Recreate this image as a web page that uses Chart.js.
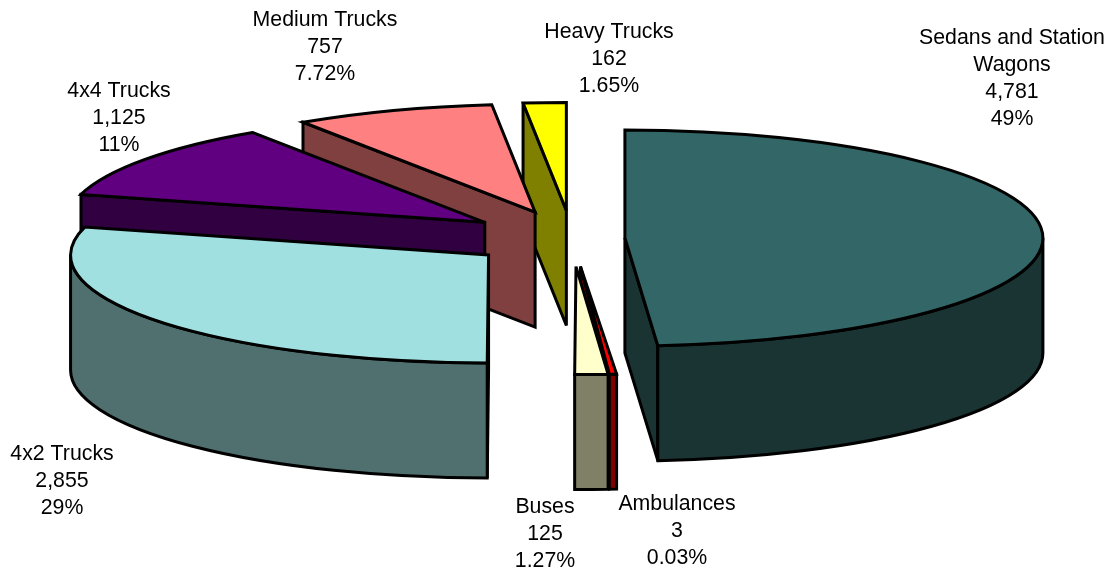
<!DOCTYPE html>
<html>
<head>
<meta charset="utf-8">
<title>Vehicles by type</title>
<script src="https://cdn.jsdelivr.net/npm/chart.js@4"></script>
<style>
    html, body { margin: 0; padding: 0; background: #fff; }
    canvas { display: block; }
</style>
</head>
<body>
<canvas id="grafico" width="1108" height="571"></canvas>
<script>
/* data */
const categories = ['Sedans and Station Wagons', 'Ambulances', 'Buses', '4x2 Trucks', '4x4 Trucks', 'Medium Trucks', 'Heavy Trucks'];
const values = [4781, 3, 125, 2855, 1125, 757, 162];
const percents = ['49%', '0.03%', '1.27%', '29%', '11%', '7.72%', '1.65%'];

/* styles */
const topColors = ['#336666', '#FF0000', '#FFFFCC', '#A0E0E0', '#600080', '#FF8080', '#FFFF00'];
const wallColors = ['#1A3333', '#800000', '#808066', '#507070', '#300040', '#804040', '#808000'];
const explode = [19, 39, 39, 37.7, 38.5, 39, 39];

/* label blocks: centre x, first line y */
const labelSpots = [[1012, 38], [677, 504], [545, 507], [62, 454], [119, 91], [325, 20], [609, 32]];
const labelLines = [['Sedans and Station', 'Wagons'], ['Ambulances'], ['Buses'], ['4x2 Trucks'], ['4x4 Trucks'], ['Medium Trucks'], ['Heavy Trucks']];

/* the tilted view */
const pieRadius = 150;
const viewRx = 418;
const viewRy = 108;
const depth = 115;
const minSweep = Math.PI / 180;

function drawSlice(ctx, arc, i) {
    const p = arc.getProps(['x', 'y', 'startAngle', 'endAngle', 'outerRadius'], true);
    const sx = viewRx / p.outerRadius;
    const sy = viewRy / p.outerRadius;
    const mid = (p.startAngle + p.endAngle) / 2;
    const off = arc.options.offset;
    const sweep = Math.max(p.endAngle - p.startAngle, minSweep);
    const a0 = mid - sweep / 2;
    const a1 = mid + sweep / 2;
    const cx = p.x + Math.cos(mid) * off * sx;
    const cy = p.y + Math.sin(mid) * off * sy;

    const fillStroke = (color) => {
        ctx.fillStyle = color;
        ctx.fill();
        ctx.stroke();
    };
    const cutFace = (a) => {
        const ex = cx + Math.cos(a) * viewRx;
        const ey = cy + Math.sin(a) * viewRy;
        ctx.beginPath();
        ctx.moveTo(cx, cy);
        ctx.lineTo(ex, ey);
        ctx.lineTo(ex, ey + depth);
        ctx.lineTo(cx, cy + depth);
        ctx.closePath();
        fillStroke(wallColors[i]);
    };

    // only the cut faces turned to the viewer
    if (Math.cos(a0) < 0) cutFace(a0);
    if (Math.cos(a1) > 0) cutFace(a1);

    // outer wall, front half of the ellipse
    const w0 = Math.max(a0, 0);
    const w1 = Math.min(a1, Math.PI);
    if (w1 > w0) {
        ctx.beginPath();
        ctx.ellipse(cx, cy, viewRx, viewRy, 0, w0, w1);
        ctx.ellipse(cx, cy + depth, viewRx, viewRy, 0, w1, w0, true);
        ctx.closePath();
        fillStroke(wallColors[i]);
    }

    // top face
    ctx.beginPath();
    ctx.moveTo(cx, cy);
    ctx.ellipse(cx, cy, viewRx, viewRy, 0, a0, a1);
    ctx.closePath();
    fillStroke(topColors[i]);
}

const tiltedPie = {
    id: 'tiltedPie',
    beforeDatasetDraw(chart, args) {
        const ctx = chart.ctx;
        const arcs = args.meta.data.map((arc, i) => ({ arc, i }));
        // back slices first
        arcs.sort((a, b) => {
            const ma = (a.arc.startAngle + a.arc.endAngle) / 2;
            const mb = (b.arc.startAngle + b.arc.endAngle) / 2;
            return Math.sin(ma) - Math.sin(mb);
        });
        ctx.save();
        ctx.lineWidth = 3;
        ctx.lineJoin = 'miter';
        ctx.miterLimit = 4;
        ctx.strokeStyle = '#000';
        arcs.forEach((s) => drawSlice(ctx, s.arc, s.i));
        ctx.restore();
        return false;
    },
    afterDraw(chart) {
        const ctx = chart.ctx;
        ctx.save();
        ctx.font = '21.3px "Liberation Sans", Arial, sans-serif';
        ctx.fillStyle = '#000';
        ctx.textAlign = 'center';
        ctx.textBaseline = 'middle';
        categories.forEach((c, i) => {
            const lines = labelLines[i].concat([values[i].toLocaleString('en-US'), percents[i]]);
            lines.forEach((line, n) => {
                ctx.fillText(line, labelSpots[i][0], labelSpots[i][1] + n * 27);
            });
        });
        ctx.restore();
    }
};

const grafico = document.getElementById('grafico').getContext('2d');

new Chart(grafico, {
    type: 'pie',
    data: {
        labels: categories,
        datasets: [{
            data: values,
            backgroundColor: topColors,
            offset: explode,
            borderWidth: 0
        }]
    },
    options: {
        responsive: false,
        animation: false,
        radius: pieRadius,
        layout: {
            padding: { left: 36, bottom: 94 }
        },
        plugins: {
            legend: { display: false },
            tooltip: { enabled: false }
        }
    },
    plugins: [tiltedPie]
});
</script>
</body>
</html>
